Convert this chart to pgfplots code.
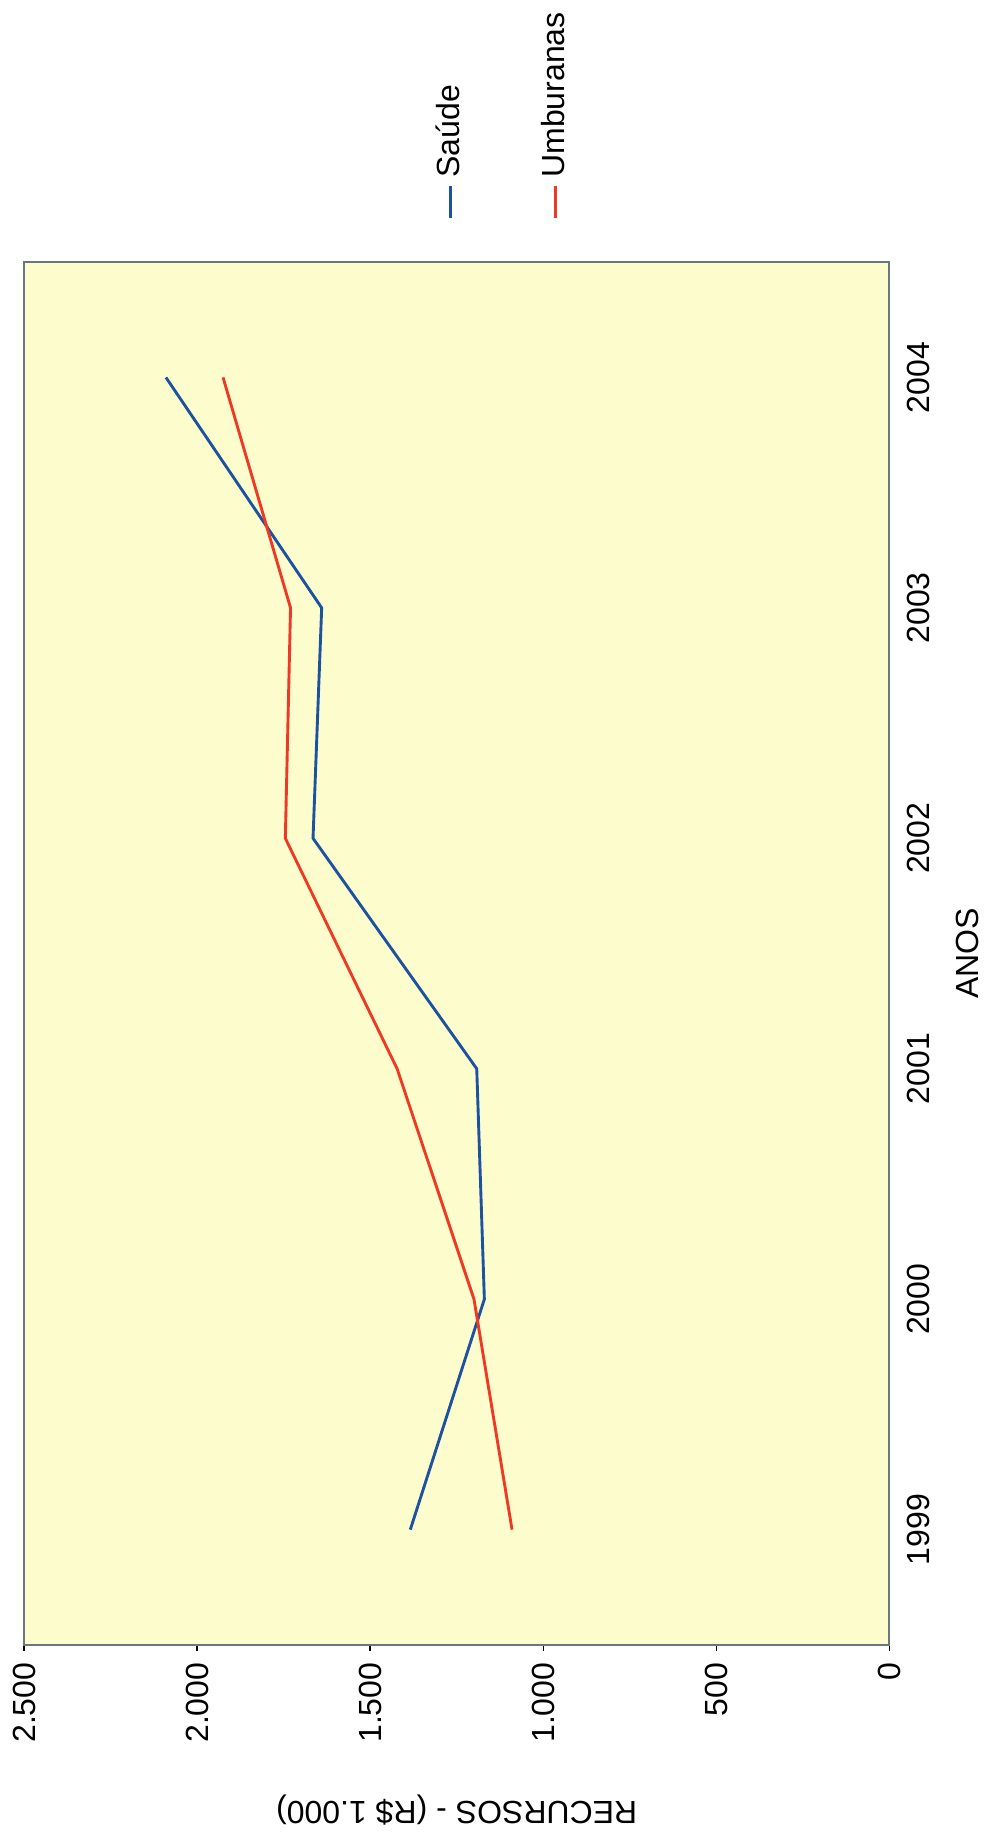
\documentclass[border=0pt]{standalone}
\usepackage{pgfplots}
\pgfplotsset{compat=1.18}
\usepackage{fontspec}
\setmainfont{Liberation Sans}
\definecolor{fundo}{RGB}{253,252,205}
\definecolor{saude}{RGB}{28,82,160}
\definecolor{umbu}{RGB}{238,58,36}
\definecolor{borda}{RGB}{105,120,128}
\begin{document}
\rotatebox{90}{%
\begin{tikzpicture}
\useasboundingbox (-62.2pt,-31pt) rectangle (513.8pt,277.8pt);
\begin{axis}[
  scale only axis,
  width=431.9pt, height=270.3pt,
  at={(0,0)}, anchor=south west,
  xmin=-0.5, xmax=5.5,
  ymin=0, ymax=2500,
  xtick={0,...,5},
  xticklabels={1999,2000,2001,2002,2003,2004},
  major x tick style={draw=none},
  ytick={0,500,...,2500},
  yticklabels={0,500,1.000,1.500,2.000,2.500},
  ytick pos=left,
  tick align=outside,
  major tick length=2pt,
  axis background/.style={fill=fundo},
  axis line style={borda, line width=0.6pt},
  tick style={black, line width=0.4pt},
  ticklabel style={font=\fontsize{10}{12}\selectfont},
  label style={font=\fontsize{10}{12}\selectfont},
  xlabel={ANOS},
  ylabel={RECURSOS - (R\$ 1.000)},
  xlabel style={at={(rel axis cs:0.5,-0.0903)}, anchor=center},
  ylabel style={at={(rel axis cs:-0.1194,0.5)}, anchor=center},
  legend style={at={(rel axis cs:1.0238,0.447)}, anchor=west, draw=none, fill=none,
    row sep=20pt, font=\fontsize{10}{12}\selectfont},
  legend cell align=left,
  legend image code/.code={\draw[#1] (0pt,0pt) -- (10pt,0pt);},
]
\addplot[saude, line width=0.9pt] coordinates {
  (0,1384) (1,1170) (2,1192) (3,1665) (4,1640) (5,2090)
};
\addlegendentry{Saúde}
\addplot[umbu, line width=0.9pt] coordinates {
  (0,1090) (1,1200) (2,1422) (3,1745) (4,1730) (5,1925)
};
\addlegendentry{Umburanas}
\end{axis}
\end{tikzpicture}}
\end{document}
